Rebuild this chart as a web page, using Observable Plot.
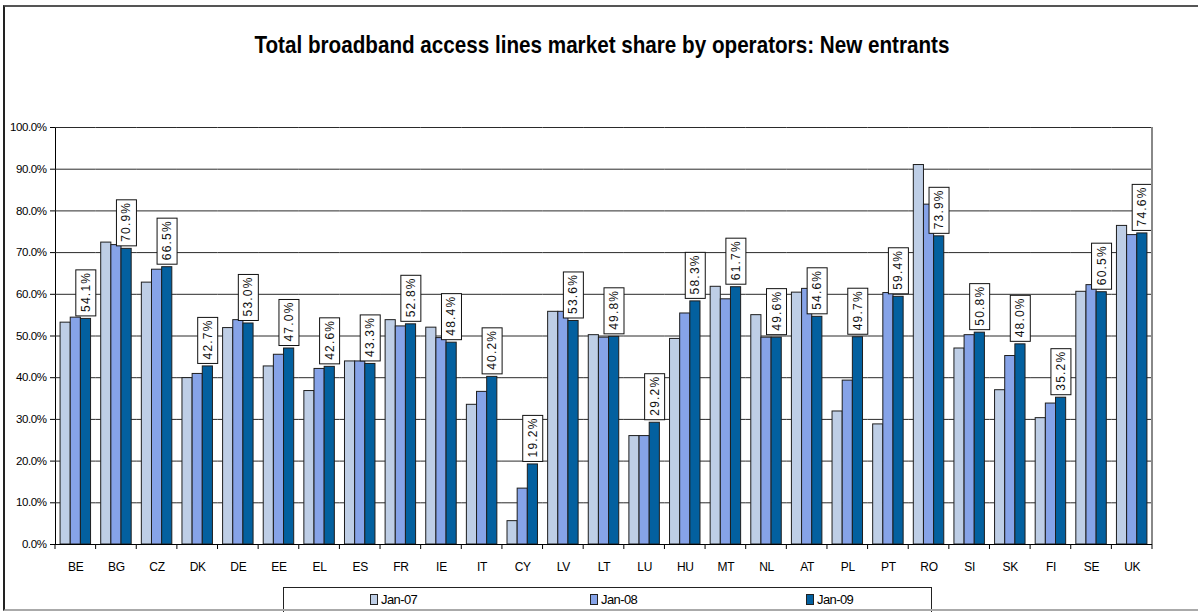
<!DOCTYPE html>
<html>
<head>
<meta charset="utf-8">
<script src="https://cdn.jsdelivr.net/npm/d3@7"></script>
<script src="https://cdn.jsdelivr.net/npm/@observablehq/plot@0.6"></script>
<style>
  body { margin: 0; background: #fff; }
  #wrap { position: relative; width: 1198px; height: 612px; overflow: hidden; font-family: "Liberation Sans", Arial, sans-serif; }
  #border { position: absolute; left: 3px; top: 5px; width: 1195px; height: 606px; border-top: 2px solid #555; border-left: 2px solid #222; border-bottom: 2px solid #aaa; box-sizing: border-box; pointer-events: none; }
  #title { position: absolute; left: 0px; top: 31px; width: 1204px; text-align: center; font-family: "Liberation Sans", Arial, sans-serif; font-weight: bold; font-size: 24px; color: #000; white-space: nowrap; }
  #title span { display: inline-block; transform-origin: 50% 50%; }
  #legend { position: absolute; left: 283px; top: 587px; width: 649px; height: 30px; border: 1px solid #222; box-sizing: border-box; background: #fff; }
  .item { position: absolute; top: 5px; font-family: "Liberation Sans", Arial, sans-serif; font-size: 13px; letter-spacing: -0.6px; color: #000; line-height: 14px; }
  .sw { display: inline-block; width: 6px; height: 9px; border: 1px solid #222; vertical-align: -1px; margin-right: 3px; }
  svg text { font-family: "Liberation Sans", Arial, sans-serif; }
</style>
</head>
<body>
<div id="wrap">
  <div id="title"><span>Total broadband access lines market share by operators: New entrants</span></div>
  <div id="legend"></div>
  <div id="border"></div>
</div>
<script>
const countries = ["BE","BG","CZ","DK","DE","EE","EL","ES","FR","IE","IT","CY","LV","LT","LU","HU","MT","NL","AT","PL","PT","RO","SI","SK","FI","SE","UK"];
const series = ["Jan-07","Jan-08","Jan-09"];
const jan07 = [53.2,72.4,62.8,39.9,51.9,42.7,36.8,43.9,53.8,52.0,33.5,5.6,55.8,50.2,26.0,49.3,61.8,55.0,60.4,31.9,28.8,91.0,47.0,37.0,30.3,60.6,76.4];
const jan08 = [54.4,71.8,65.9,40.9,53.8,45.5,42.1,43.9,52.3,49.5,36.6,13.4,55.8,49.6,26.0,55.4,58.8,49.6,61.3,39.3,60.3,81.5,50.2,45.2,33.8,62.2,74.2];
const jan09 = [54.1,70.9,66.5,42.7,53.0,47.0,42.6,43.3,52.8,48.4,40.2,19.2,53.6,49.8,29.2,58.3,61.7,49.6,54.6,49.7,59.4,73.9,50.8,48.0,35.2,60.5,74.6];
const colors = ["#BECEE6","#86A3E8","#03609F"];
const yTicks = [0,10,20,30,40,50,60,70,80,90,100];

const values = [jan07, jan08, jan09];
const rows = [];
countries.forEach((c, i) => series.forEach((s, j) => rows.push({country: c, series: s, value: values[j][i]})));
const labels = countries.map((c, i) => ({country: c, series: "Jan-09", value: jan09[i], text: jan09[i].toFixed(1) + "%"}));

const plot = Plot.plot({
  width: 1198,
  height: 612,
  marginLeft: 55,
  marginRight: 46,
  marginTop: 127,
  marginBottom: 68,
  style: {fontFamily: "Liberation Sans, Arial, sans-serif", fontSize: "12px", background: "transparent", color: "#000", overflow: "visible"},
  fx: {domain: countries, padding: 0, round: false, label: null, axis: "bottom", tickSize: 0, tickPadding: 18},
  x: {domain: series, axis: null, round: false, paddingInner: 0, paddingOuter: 0.5},
  y: {domain: [0, 100], ticks: yTicks, tickFormat: d => d.toFixed(1) + "%", label: null, tickSize: 5, tickPadding: 4, line: true},
  color: {domain: series, range: colors},
  marks: [
    Plot.ruleY(yTicks.filter(d => d > 0), {stroke: "#2a2a2a", strokeWidth: 1}),
    Plot.barY(rows, {fx: "country", x: "series", y: "value", fill: "series", stroke: "#1e1e1e", strokeWidth: 1}),
    Plot.ruleY([0], {stroke: "#000", strokeWidth: 1.2}),
    Plot.text(labels, {fx: "country", x: "series", y: "value", text: "text", rotate: -90, textAnchor: "start", lineAnchor: "middle", dy: -7, fontSize: 12, fill: "#111"})
  ]
});

const wrap = document.getElementById("wrap");
wrap.insertBefore(plot, document.getElementById("legend"));
plot.style.position = "absolute";
plot.style.left = "0px";
plot.style.top = "0px";

// narrower tick labels (reference uses a condensed face)
d3.select(plot).selectAll('g[aria-label="y-axis tick label"] text').style("font-size", "11.5px").style("letter-spacing", "-0.4px");
d3.select(plot).selectAll('g[aria-label="fx-axis tick label"] text').style("letter-spacing", "-0.3px");

// label boxes
d3.select(plot).selectAll('g[aria-label="text"] text').each(function() {
  this.style.letterSpacing = "1.2px";
  const b = this.getBBox();
  const r = document.createElementNS("http://www.w3.org/2000/svg", "rect");
  r.setAttribute("x", b.x - 4);
  r.setAttribute("y", b.y - 3);
  r.setAttribute("width", b.width + 6);
  r.setAttribute("height", b.height + 6);
  r.setAttribute("fill", "#fff");
  r.setAttribute("stroke", "#111");
  r.setAttribute("stroke-width", "1");
  const tr = this.getAttribute("transform");
  if (tr) r.setAttribute("transform", tr);
  this.parentNode.insertBefore(r, this);
});

// category boundary ticks and right edge line, from the fx / y scales
const fx = plot.scale("fx");
const y = plot.scale("y");
const y0 = y.apply(0), y100 = y.apply(100);
const g = d3.select(plot).append("g");
const edges = countries.map(c => fx.apply(c));
edges.push(fx.apply(countries[countries.length - 1]) + fx.bandwidth);
g.selectAll("line.tk").data(edges).join("line")
  .attr("x1", d => d).attr("x2", d => d).attr("y1", y0).attr("y2", y0 + 5)
  .attr("stroke", "#000");
const xr = edges[edges.length - 1];
g.append("line").attr("x1", xr).attr("x2", xr).attr("y1", y100).attr("y2", y0).attr("stroke", "#888").attr("stroke-width", 2);

// title: condensed to the reference width
const ts = document.querySelector("#title span");
const tw = ts.getBoundingClientRect().width;
ts.style.transform = "scaleX(" + (695 / tw) + ")";

// legend
const legend = d3.select("#legend");
const legendX = [86, 306, 522];
series.forEach((s, i) => {
  const it = legend.append("div").attr("class", "item").style("left", legendX[i] + "px");
  it.append("span").attr("class", "sw").style("background", colors[i]);
  it.append("span").text(s);
});
</script>
</body>
</html>
